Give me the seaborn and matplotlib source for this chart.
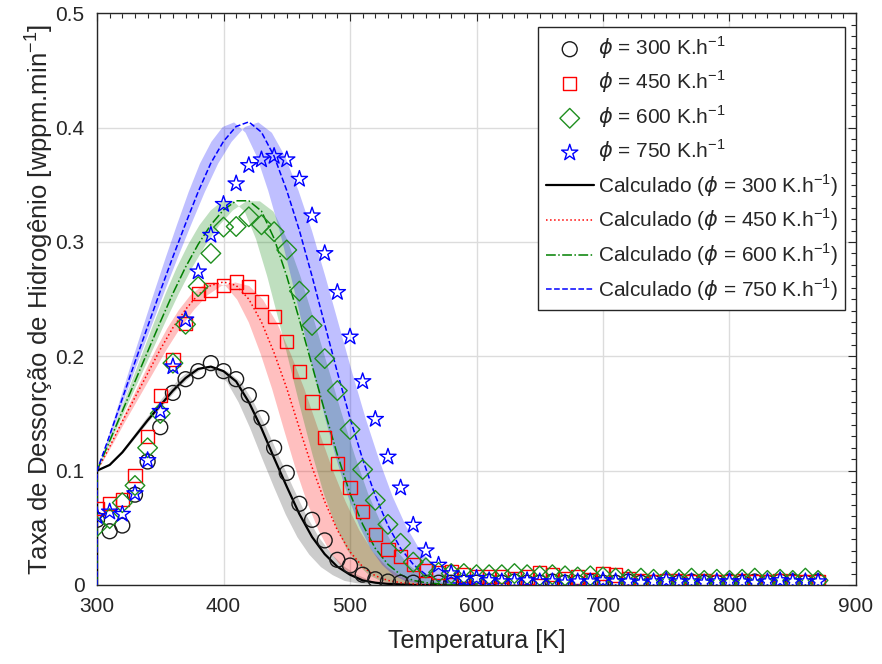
import numpy as np
import pandas as pd
import seaborn as sns
import matplotlib
matplotlib.use("Agg")
import matplotlib.pyplot as plt

# ---------------- data ----------------
T_exp = list(range(300, 880, 10))  # 300 ... 870 K

y_300 = [0.057, 0.047, 0.052, 0.079, 0.108, 0.138, 0.168, 0.180, 0.187, 0.194,
         0.187, 0.180, 0.166, 0.146, 0.120, 0.098, 0.071, 0.057, 0.039, 0.022,
         0.017, 0.009, 0.005,
         0.003, 0.002, 0.002, 0.002, 0.002, 0.002, 0.002, 0.002, 0.003, 0.002,
         0.003, 0.002, 0.002, 0.003, 0.002, 0.002, 0.003, 0.002, 0.002, 0.003,
         0.002, 0.002, 0.003, 0.002, 0.003, 0.002, 0.002, 0.003, 0.002, 0.003,
         0.002, 0.003, 0.003, 0.002, 0.003]

y_450 = [0.067, 0.071, 0.075, 0.096, 0.130, 0.166, 0.197, 0.229, 0.255, 0.258,
         0.262, 0.265, 0.261, 0.248, 0.235, 0.213, 0.187, 0.160, 0.129, 0.106,
         0.085, 0.064, 0.044, 0.031, 0.025, 0.018, 0.0125, 0.011, 0.0117, 0.0087,
         0.0073,
         0.0073, 0.0073, 0.006, 0.007, 0.011, 0.009, 0.006, 0.007, 0.005, 0.010,
         0.0087, 0.006, 0.004, 0.003, 0.004, 0.004, 0.003, 0.004, 0.003, 0.003,
         0.004, 0.003, 0.003, 0.004, 0.003, 0.003, 0.003]

y_600 = [0.051, 0.058, 0.072, 0.087, 0.120, 0.150, 0.194, 0.228, 0.261, 0.290,
         0.313, 0.3135, 0.322, 0.315, 0.309, 0.293, 0.257, 0.227, 0.198, 0.170,
         0.136, 0.101, 0.074, 0.053, 0.0365, 0.020, 0.015, 0.011, 0.010, 0.010,
         0.009,
         0.009, 0.009, 0.010, 0.009, 0.008, 0.009, 0.008, 0.007, 0.008, 0.007,
         0.006, 0.005, 0.006, 0.005, 0.004, 0.005, 0.006, 0.004, 0.005, 0.004,
         0.005, 0.006, 0.004, 0.005, 0.004, 0.006, 0.004]

y_750 = [0.060, 0.064, 0.062, 0.080, 0.109, 0.152, 0.191, 0.232, 0.274, 0.306,
         0.333, 0.351, 0.367, 0.372, 0.375, 0.372, 0.355, 0.323, 0.290, 0.256,
         0.217, 0.178, 0.145, 0.112, 0.085, 0.0525, 0.030, 0.0175, 0.010, 0.005,
         0.006,
         0.004, 0.003, 0.003, 0.004, 0.003, 0.003, 0.002, 0.003, 0.003, 0.004,
         0.003, 0.003, 0.002, 0.003, 0.004, 0.003, 0.003, 0.002, 0.003, 0.003,
         0.003, 0.002, 0.003, 0.004, 0.003, 0.003, 0.003]

# calculated curves (first point: vertical rise at 300 K)
T_calc = [300] + list(range(300, 610, 10))
c_300 = [0.0, 0.100, 0.105, 0.116, 0.130, 0.144, 0.157, 0.170, 0.181, 0.189, 0.191,
         0.187, 0.178, 0.160, 0.137, 0.111, 0.086, 0.062, 0.042, 0.027, 0.016,
         0.009, 0.004, 0.002, 0.001, 0.0005, 0, 0, 0, 0, 0, 0]
c_450 = [0.0, 0.100, 0.121, 0.143, 0.164, 0.185, 0.206, 0.225, 0.241, 0.254, 0.262,
         0.265, 0.262, 0.250, 0.230, 0.203, 0.172, 0.137, 0.103, 0.073, 0.048,
         0.029, 0.016, 0.008, 0.004, 0.002, 0.001, 0, 0, 0, 0, 0]
c_600 = [0.0, 0.100, 0.126, 0.152, 0.178, 0.204, 0.230, 0.255, 0.278, 0.298, 0.315,
         0.328, 0.336, 0.336, 0.327, 0.303, 0.270, 0.232, 0.192, 0.152, 0.114,
         0.080, 0.053, 0.032, 0.018, 0.009, 0.004, 0.002, 0.001, 0, 0, 0]
c_750 = [0.0, 0.100, 0.131, 0.163, 0.195, 0.226, 0.257, 0.287, 0.316, 0.344, 0.369,
         0.388, 0.401, 0.405, 0.396, 0.375, 0.345, 0.310, 0.270, 0.228, 0.186,
         0.146, 0.110, 0.078, 0.052, 0.032, 0.018, 0.009, 0.004, 0.002, 0.001, 0]

# uncertainty band: early / late temperature stretch about 300 K
band_early = [0.93, 0.92, 0.895, 0.90]
band_late = [1.03, 1.09, 1.07, 1.06]

rates = [300, 450, 600, 750]
exp_vals = [y_300, y_450, y_600, y_750]
calc_vals = [c_300, c_450, c_600, c_750]

# ---------------- styling ----------------
sns.set_style("white")
plt.rcParams["font.family"] = ["Liberation Sans", "DejaVu Sans"]
plt.rcParams["mathtext.fontset"] = "dejavusans"
txt = "#262626"

colors = ["#000000", "#ff0000", "#008000", "#0000ff"]
edge_cols = ["#1a1a1a", "#ff0000", "#1f8f1f", "#0000ff"]
band_cols = ["#000000", "#ff0000", "#008000", "#0000ff"]
band_alpha = [0.20, 0.25, 0.25, 0.25]
markers = ["o", "s", "D", "*"]
msizes = [115, 90, 100, 150]
lstyles = ["-", ":", "-.", "--"]
lwidths = [1.6, 1.1, 1.1, 1.1]

fig = plt.figure(figsize=(8.82, 6.64), dpi=100)
ax = fig.add_axes([0.110, 0.119, 0.8605, 0.861])

# bands
Tf = np.linspace(300, 620, 641)
for i in range(4):
    Tc = np.array(T_calc[1:], dtype=float)
    yc = np.array(calc_vals[i][1:], dtype=float)
    ye = np.interp(300 + (Tf - 300) / band_early[i], Tc, yc)
    yl = np.interp(300 + (Tf - 300) / band_late[i], Tc, yc)
    lo = np.minimum(ye, yl)
    hi = np.maximum(ye, yl)
    ax.fill_between(Tf, lo, hi, color=band_cols[i], alpha=band_alpha[i],
                    linewidth=0, zorder=1)

# calculated lines
for i in range(4):
    df = pd.DataFrame({"T": T_calc, "y": calc_vals[i]})
    sns.lineplot(data=df, x="T", y="y", ax=ax, sort=False, estimator=None,
                 color=colors[i], linewidth=lwidths[i],
                 label=r"Calculado ($\phi$ = %d K.h$^{\mathregular{-1}}$)" % rates[i],
                 zorder=3)
    ax.lines[-1].set_linestyle(lstyles[i])

# experimental markers
for i in range(4):
    df = pd.DataFrame({"T": T_exp, "y": exp_vals[i]})
    sns.scatterplot(data=df, x="T", y="y", ax=ax, marker=markers[i],
                    s=msizes[i], facecolors="none", edgecolor=edge_cols[i],
                    linewidth=1.0, label=r"$\phi$ = %d K.h$^{\mathregular{-1}}$" % rates[i],
                    zorder=4)

ax.set_xlim(300, 900)
ax.set_ylim(0, 0.5)
ax.set_xticks(np.arange(300, 901, 100))
ax.set_yticks(np.arange(0, 0.51, 0.1))
ax.set_yticklabels(["0", "0.1", "0.2", "0.3", "0.4", "0.5"])
ax.set_xticks(np.arange(300, 901, 10), minor=True)
ax.set_yticks(np.arange(0, 0.501, 0.01), minor=True)
ax.grid(True, which="major", color="#dcdcdc", linewidth=1.0)
ax.set_axisbelow(True)
ax.tick_params(which="both", direction="in", top=True, right=True,
               colors=txt, labelsize=15)
ax.tick_params(which="major", length=6, width=0.8)
ax.tick_params(which="minor", length=3.5, width=0.8)
ax.tick_params(axis="x", which="major", pad=9)
ax.tick_params(axis="y", which="major", pad=9)
for s in ax.spines.values():
    s.set_color(txt)
    s.set_linewidth(1.0)
    s.set_visible(True)

ax.set_xlabel("Temperatura [K]", fontsize=18, color=txt, labelpad=9)
ax.set_ylabel(r"Taxa de Dessorção de Hidrogênio [wppm.min$^{\mathregular{-1}}$]",
              fontsize=18.5, color=txt, labelpad=0)

h, l = ax.get_legend_handles_labels()
order = [4, 5, 6, 7, 0, 1, 2, 3]
leg = ax.legend([h[k] for k in order], [l[k] for k in order], loc="upper right",
                bbox_to_anchor=(0.986, 0.976), fontsize=15, frameon=True,
                fancybox=False, edgecolor=txt, framealpha=1,
                handlelength=2.3, handletextpad=0.2, labelspacing=0.38,
                borderpad=0.35, borderaxespad=0)
leg.get_frame().set_linewidth(1.0)
for t in leg.get_texts():
    t.set_color(txt)

fig.savefig("out.png", dpi=100)
